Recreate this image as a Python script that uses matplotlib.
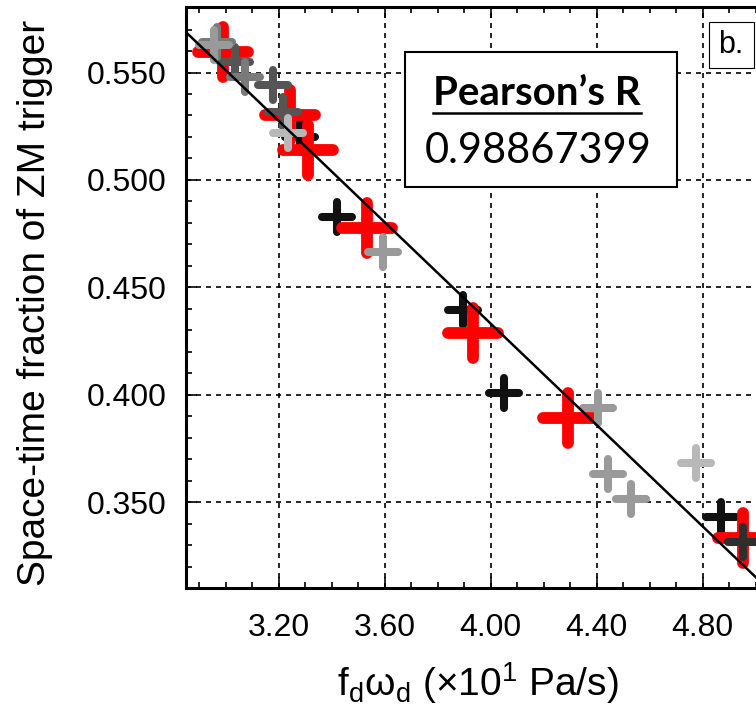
import matplotlib.pyplot as plt
import numpy as np
from matplotlib.markers import MarkerStyle
from matplotlib.patches import Rectangle
from matplotlib.ticker import MultipleLocator, FormatStrFormatter

plt.rcParams['font.family'] = ['Liberation Sans', 'DejaVu Sans']
plt.rcParams['mathtext.default'] = 'regular'

# точки по сериям (f_d*w_d, доля срабатываний ZM)
red_x = [2.990, 3.242, 3.310, 3.533, 3.933, 4.292, 4.952]
red_y = [0.5595, 0.5302, 0.5139, 0.4776, 0.4287, 0.3892, 0.3333]

black_x = [3.280, 3.420, 3.895, 4.050, 4.869]
black_y = [0.5200, 0.4827, 0.4394, 0.4008, 0.3431]

dark_x = [4.952]
dark_y = [0.3314]

dgray_x = [3.035, 3.178, 3.216]
dgray_y = [0.5549, 0.5442, 0.5316]

mgray_x = [2.967, 3.073]
mgray_y = [0.5642, 0.5479]

gray_x = [2.956, 3.593, 4.405, 4.442, 4.529]
gray_y = [0.5628, 0.4664, 0.3938, 0.3631, 0.3514]

lgray_x = [3.235, 4.775]
lgray_y = [0.5218, 0.3682]

pearson_r = '0.98867399'

W, H = 756, 708
fig = plt.figure(figsize=(W / 100, H / 100), dpi=100)
ax = fig.add_axes([186 / W, 1 - 588 / H, 583 / W, 581 / H])

plus = MarkerStyle('+', capstyle='round')
small = dict(ls='none', marker=plus, ms=21, mew=5.8)

ax.plot(black_x, black_y, color='#111111', **small)
ax.plot(red_x, red_y, ls='none', marker=plus, ms=36, mew=8.5, color='#ff0000')
ax.plot(dark_x, dark_y, color='#2e2e2e', **small)
ax.plot(dgray_x, dgray_y, color='#555555', **small)
ax.plot(mgray_x, mgray_y, color='#7a7a7a', **small)
ax.plot(gray_x, gray_y, color='#9a9a9a', **small)
ax.plot(lgray_x, lgray_y, color='#b8b8b8', **small)

# линия регрессии по всем точкам
all_x = np.concatenate([red_x, black_x, dark_x, dgray_x, mgray_x, gray_x, lgray_x])
all_y = np.concatenate([red_y, black_y, dark_y, dgray_y, mgray_y, gray_y, lgray_y])
a, b = np.polyfit(all_x, all_y, 1)
xl = np.array([2.85, 5.05])
ax.plot(xl, a * xl + b, color='black', lw=1.8, zorder=5)

ax.set_xlim(2.85, 5.05)
ax.set_ylim(0.310, 0.5805)
ax.xaxis.set_major_locator(MultipleLocator(0.4))
ax.xaxis.set_minor_locator(MultipleLocator(0.1))
ax.yaxis.set_major_locator(MultipleLocator(0.05))
ax.yaxis.set_minor_locator(MultipleLocator(0.01))
ax.xaxis.set_major_formatter(FormatStrFormatter('%.2f'))
ax.yaxis.set_major_formatter(FormatStrFormatter('%.3f'))
ax.tick_params(which='both', direction='in', top=True, right=True, width=1.2)
ax.tick_params(which='major', length=8, labelsize=23)
ax.tick_params(which='minor', length=4)
ax.tick_params(axis='x', pad=18)
ax.tick_params(axis='y', pad=14)
for s in ax.spines.values():
    s.set_linewidth(2.2)
ax.grid(True, which='major', color='black', ls=(0, (3, 3)), lw=1.2)
ax.set_axisbelow(True)

ax.set_xlabel('f$_{d}$\u03c9$_{d}$ (\u00d710$^{1}$ Pa/s)', fontsize=28)
ax.xaxis.set_label_coords(0.5, -0.125)
ax.set_ylabel('Space-time fraction of ZM trigger', fontsize=28)
ax.yaxis.set_label_coords(-0.228, 0.49)

# рамка с коэффициентом Пирсона
def fx(px):
    return px / W

def fy(py):
    return 1 - py / H

fig.patches.append(Rectangle((fx(405), fy(187)), 272 / W, 135 / H, transform=fig.transFigure,
                             facecolor='white', edgecolor='black', lw=1.5, zorder=10))
t1 = fig.text(fx(537), fy(105), 'Pearson\u2019s R', family='Lato', weight='bold',
              fontsize=29, ha='center', va='baseline', zorder=11)
fig.text(fx(538), fy(163), pearson_r, family='Lato', fontsize=30,
         ha='center', va='baseline', zorder=11)
fig.canvas.draw()
bb = t1.get_window_extent()
fig.add_artist(plt.Line2D([bb.x0 / W, bb.x1 / W], [fy(113), fy(113)],
                          transform=fig.transFigure, color='black', lw=1.8, zorder=11))

fig.patches.append(Rectangle((fx(709), fy(68)), 45 / W, 46 / H, transform=fig.transFigure,
                             facecolor='white', edgecolor='black', lw=0.8, zorder=10))
fig.text(fx(731), fy(45), 'b.', fontsize=22, ha='center', va='center', zorder=11)

fig.savefig('out.png', dpi=100)
